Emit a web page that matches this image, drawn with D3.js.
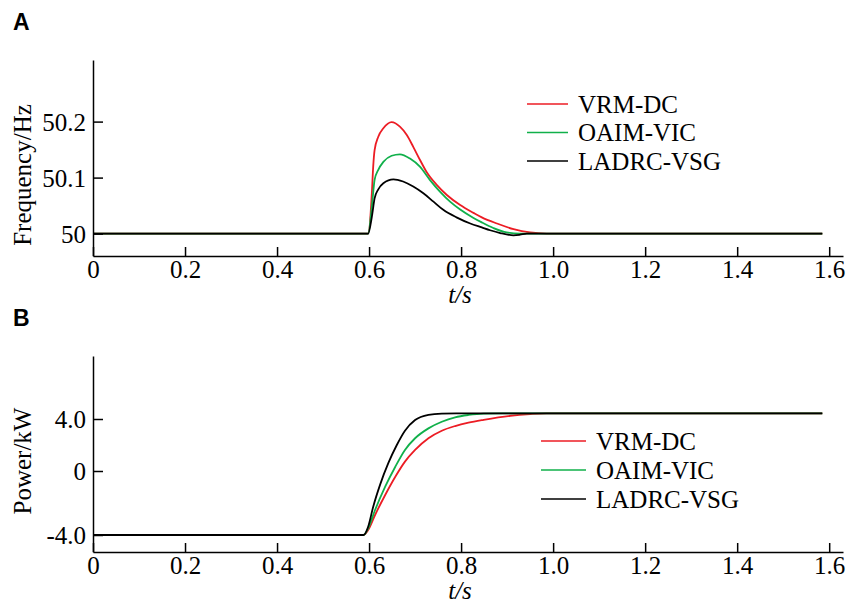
<!DOCTYPE html>
<html><head><meta charset="utf-8">
<script src="https://cdn.jsdelivr.net/npm/d3@7"></script>
<style>body{margin:0;background:#fff}svg{display:block}</style>
</head><body>
<svg id="c" width="846" height="608"></svg>
<script>
// ---- data ----
const seriesNames = ["VRM-DC", "OAIM-VIC", "LADRC-VSG"];
const seriesColors = ["#ec1c24", "#10b04a", "#000000"];
const xTicks = [0, 0.2, 0.4, 0.6, 0.8, 1.0, 1.2, 1.4, 1.6];
const xTickLabels = ["0", "0.2", "0.4", "0.6", "0.8", "1.0", "1.2", "1.4", "1.6"];
const freqTicks = [50, 50.1, 50.2];
const freqTickLabels = ["50", "50.1", "50.2"];
const powTicks = [-4, 0, 4];
const powTickLabels = ["-4.0", "0", "4.0"];

// Panel A: frequency (Hz)
const fRedT = [0, 0.598, 0.606, 0.609, 0.612, 0.62, 0.631, 0.649, 0.667, 0.682, 0.696, 0.711, 0.725, 0.747, 0.769, 0.798, 0.827, 0.845, 0.878, 0.914, 0.95, 0.986, 1.585];
const fRedV = [50, 50, 50.072, 50.12, 50.149, 50.173, 50.188, 50.199, 50.191, 50.176, 50.155, 50.131, 50.11, 50.087, 50.069, 50.051, 50.037, 50.029, 50.018, 50.008, 50.002, 50, 50];
const fGreenT = [0, 0.598, 0.606, 0.612, 0.62, 0.631, 0.649, 0.667, 0.689, 0.711, 0.732, 0.754, 0.776, 0.798, 0.827, 0.845, 0.87, 0.899, 0.928, 1.585];
const fGreenV = [50, 50, 50.048, 50.096, 50.114, 50.128, 50.139, 50.1416, 50.134, 50.119, 50.096, 50.075, 50.057, 50.043, 50.028, 50.02, 50.01, 50.002, 50, 50];
const fBlackT = [0, 0.598, 0.606, 0.612, 0.62, 0.631, 0.653, 0.674, 0.696, 0.718, 0.74, 0.762, 0.79, 0.82, 0.845, 0.863, 0.885, 0.914, 0.928, 0.943, 1.585];
const fBlackV = [50, 50, 50.03, 50.063, 50.079, 50.09, 50.097, 50.093, 50.084, 50.072, 50.057, 50.042, 50.029, 50.018, 50.011, 50.006, 50.001, 49.997, 49.998, 50, 50];

// Panel B: power (kW)
const pRedT = [0, 0.588, 0.598, 0.613, 0.635, 0.657, 0.678, 0.7, 0.729, 0.758, 0.787, 0.816, 0.849, 0.907, 0.95, 0.985, 1.585];
const pRedV = [-4, -4, -3.69, -2.75, -1.5, -0.36, 0.72, 1.62, 2.52, 3.1, 3.46, 3.72, 3.94, 4.25, 4.38, 4.44, 4.44];
const pGreenT = [0, 0.588, 0.598, 0.613, 0.635, 0.657, 0.678, 0.7, 0.729, 0.758, 0.787, 0.816, 0.849, 0.89, 1.585];
const pGreenV = [-4, -4, -3.58, -2.44, -0.98, 0.33, 1.62, 2.52, 3.28, 3.79, 4.13, 4.31, 4.42, 4.44, 4.44];
const pBlackT = [0, 0.588, 0.598, 0.609, 0.624, 0.642, 0.66, 0.678, 0.7, 0.729, 0.758, 0.79, 1.585];
const pBlackV = [-4, -4, -3.48, -2.23, -0.85, 0.62, 1.98, 3.1, 3.92, 4.32, 4.42, 4.44, 4.44];

const freqSeries = [[fRedT, fRedV], [fGreenT, fGreenV], [fBlackT, fBlackV]];
const powSeries = [[pRedT, pRedV], [pGreenT, pGreenV], [pBlackT, pBlackV]];

// ---- drawing ----
const svg = d3.select("#c");
const serif = "'Liberation Serif','Times New Roman',serif";
const FS = 25;

function panel(cfg) {
  const x = d3.scaleLinear().domain([0, 1.63]).range([93, 843]);
  const y = cfg.y;
  const g = svg.append("g");

  // curves
  const line = d3.line().x(d => x(d[0])).y(d => y(d[1])).curve(d3.curveMonotoneX);
  cfg.series.forEach((s, i) => {
    const pts = s[0].map((t, k) => [t, s[1][k]]);
    g.append("path").attr("d", line(pts)).attr("fill", "none")
      .attr("stroke", seriesColors[i]).attr("stroke-width", 1.8);
  });

  // axes
  const xa = d3.axisBottom(x).tickValues(xTicks)
    .tickFormat((d, i) => xTickLabels[i]).tickSizeInner(-9).tickSizeOuter(0).tickPadding(4);
  const gx = g.append("g").attr("transform", `translate(0,${cfg.axisY})`).call(xa);
  const ya = d3.axisLeft(y).tickValues(cfg.ticks)
    .tickFormat((d, i) => cfg.tickLabels[i]).tickSizeInner(-10).tickSizeOuter(0).tickPadding(7);
  const gy = g.append("g").attr("transform", `translate(93,0)`).call(ya);
  [gx, gy].forEach(a => {
    a.select(".domain").attr("stroke", "#000").attr("stroke-width", 1.5);
    a.selectAll(".tick line").attr("stroke", "#000").attr("stroke-width", 1.5);
    a.selectAll("text").attr("font-family", serif).attr("font-size", FS).attr("fill", "#000");
  });
  gy.selectAll(".tick text").attr("dy", "0.34em");

  // axis titles
  g.append("text").attr("x", 460).attr("y", cfg.axisY + 47).attr("text-anchor", "middle")
    .attr("font-family", serif).attr("font-size", FS).attr("font-style", "italic").text("t/s");
  g.append("text").attr("transform", `translate(31,${cfg.titleY}) rotate(-90)`)
    .attr("text-anchor", "middle").attr("font-family", serif).attr("font-size", FS).text(cfg.title);

  // panel letter
  g.append("text").attr("x", 13).attr("y", cfg.letterY).attr("font-family", "'Liberation Sans',Arial,sans-serif")
    .attr("font-weight", "bold").attr("font-size", 23).text(cfg.letter);

  // legend
  seriesNames.forEach((n, i) => {
    const ly = cfg.legY + i * cfg.legGap;
    g.append("line").attr("x1", cfg.legX).attr("x2", cfg.legX + cfg.legLen)
      .attr("y1", ly).attr("y2", ly).attr("stroke", seriesColors[i]).attr("stroke-width", 1.5);
    g.append("text").attr("x", cfg.legX + cfg.legLen + 10).attr("y", ly).attr("dy", "0.35em")
      .attr("font-family", serif).attr("font-size", FS).text(n);
  });
}

panel({
  y: d3.scaleLinear().domain([49.96, 50.31]).range([256, 60]),
  series: freqSeries, ticks: freqTicks, tickLabels: freqTickLabels,
  axisY: 256, title: "Frequency/Hz", titleY: 175, letter: "A", letterY: 30,
  legX: 527, legLen: 41, legY: 104, legGap: 28.5
});
panel({
  y: d3.scaleLinear().domain([-5.06, -4, 0, 4, 8.85]).range([552, 535, 471, 419, 356]),
  series: powSeries, ticks: powTicks, tickLabels: powTickLabels,
  axisY: 552, title: "Power/kW", titleY: 461, letter: "B", letterY: 326,
  legX: 541, legLen: 45, legY: 441, legGap: 29
});
</script>
</body></html>
